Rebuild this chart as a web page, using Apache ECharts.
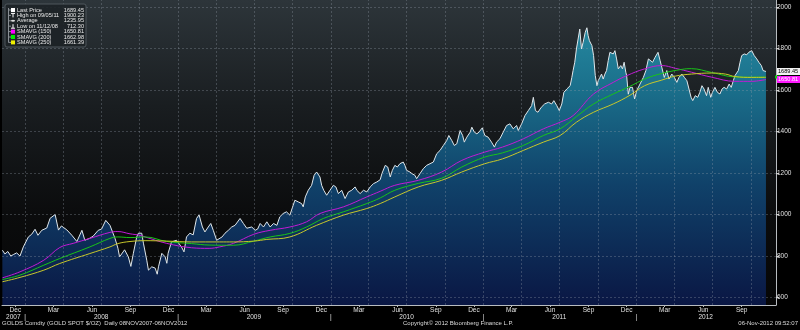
<!DOCTYPE html>
<html><head><meta charset="utf-8">
<script src="https://cdn.jsdelivr.net/npm/echarts@6/dist/echarts.min.js"></script>
<style>html,body{margin:0;padding:0;background:#000;}#c{width:800px;height:330px;}</style>
</head><body><div id="c"></div>
<script>
const goldPrice = [
['2007-11-08',828],['2007-11-14',810],['2007-11-21',822],['2007-11-28',800],['2007-12-05',808],['2007-12-12',815],['2007-12-20',800],['2007-12-28',844],
['2008-01-09',892],['2008-01-17',905],['2008-01-25',929],['2008-02-01',900],['2008-02-10',924],['2008-02-22',935],['2008-03-01',982],['2008-03-13',1000],['2008-03-17',1008],['2008-03-21',925],['2008-03-28',945],['2008-04-10',926],['2008-04-22',900],['2008-05-04',870],['2008-05-16',924],['2008-05-23',876],['2008-06-04',886],['2008-06-12',896],['2008-06-24',924],['2008-07-02',930],['2008-07-12',972],['2008-07-22',948],['2008-08-03',886],['2008-08-10',838],['2008-08-14',796],['2008-08-26',830],['2008-09-04',796],['2008-09-10',750],['2008-09-16',813],['2008-09-24',892],['2008-09-28',910],['2008-10-06',910],['2008-10-10',862],['2008-10-18',780],['2008-10-22',732],['2008-10-30',748],['2008-11-07',742],['2008-11-12',712.3],['2008-11-15',748],['2008-11-23',813],['2008-12-01',796],['2008-12-05',765],['2008-12-08',813],['2008-12-16',868],['2008-12-28',876],
['2009-01-01',868],['2009-01-09',844],['2009-01-15',820],['2009-01-21',892],['2009-01-29',910],['2009-02-06',902],['2009-02-14',981],['2009-02-20',998],['2009-02-28',940],['2009-03-06',916],['2009-03-14',940],['2009-03-20',957],['2009-03-26',924],['2009-04-03',876],['2009-04-11',886],['2009-04-16',892],['2009-04-23',910],['2009-05-01',924],['2009-05-09',940],['2009-05-17',948],['2009-05-29',981],['2009-06-06',957],['2009-06-14',934],['2009-06-26',940],['2009-07-04',924],['2009-07-10',930],['2009-07-16',957],['2009-07-24',940],['2009-08-01',965],['2009-08-09',940],['2009-08-17',957],['2009-08-25',948],['2009-09-01',989],['2009-09-09',1005],['2009-09-17',1013],['2009-09-25',997],['2009-10-03',1045],['2009-10-07',1069],['2009-10-15',1061],['2009-10-23',1053],['2009-10-27',1037],['2009-11-01',1085],['2009-11-08',1117],['2009-11-16',1141],['2009-11-22',1189],['2009-11-28',1205],['2009-12-02',1213],['2009-12-06',1181],['2009-12-10',1141],['2009-12-15',1117],['2009-12-22',1093],['2009-12-30',1117],
['2010-01-07',1141],['2010-01-13',1133],['2010-01-19',1101],['2010-01-27',1117],['2010-02-04',1077],['2010-02-12',1109],['2010-02-20',1117],['2010-02-28',1133],['2010-03-04',1117],['2010-03-12',1101],['2010-03-20',1117],['2010-03-28',1109],['2010-04-05',1133],['2010-04-13',1149],['2010-04-21',1157],['2010-04-29',1168],['2010-05-03',1197],['2010-05-11',1237],['2010-05-17',1229],['2010-05-23',1181],['2010-05-28',1213],['2010-06-03',1237],['2010-06-09',1229],['2010-06-15',1245],['2010-06-23',1253],['2010-06-27',1237],['2010-07-01',1213],['2010-07-09',1205],['2010-07-14',1197],['2010-07-21',1189],['2010-07-25',1173],['2010-08-02',1197],['2010-08-10',1221],['2010-08-18',1237],['2010-08-26',1245],['2010-09-03',1253],['2010-09-11',1293],['2010-09-19',1309],['2010-09-27',1333],['2010-10-05',1357],['2010-10-10',1381],['2010-10-17',1357],['2010-10-23',1333],['2010-10-29',1341],['2010-11-06',1405],['2010-11-12',1381],['2010-11-16',1349],['2010-11-22',1373],['2010-11-30',1397],['2010-12-04',1421],['2010-12-10',1397],['2010-12-16',1389],['2010-12-21',1397],['2010-12-29',1418],
['2011-01-04',1381],['2011-01-12',1373],['2011-01-20',1349],['2011-01-27',1325],['2011-02-01',1349],['2011-02-09',1365],['2011-02-17',1397],['2011-02-25',1429],['2011-03-05',1437],['2011-03-13',1413],['2011-03-21',1429],['2011-03-25',1405],['2011-04-02',1437],['2011-04-10',1477],['2011-04-18',1501],['2011-04-26',1525],['2011-04-30',1565],['2011-05-05',1501],['2011-05-11',1493],['2011-05-19',1517],['2011-05-27',1533],['2011-06-05',1541],['2011-06-13',1533],['2011-06-18',1549],['2011-06-25',1525],['2011-07-01',1501],['2011-07-07',1533],['2011-07-12',1589],['2011-07-19',1605],['2011-07-27',1621],['2011-07-31',1661],['2011-08-03',1694],['2011-08-07',1734],['2011-08-11',1798],['2011-08-15',1846],['2011-08-19',1894],['2011-08-23',1798],['2011-08-27',1830],['2011-09-01',1878],['2011-09-05',1900.23],['2011-09-08',1862],['2011-09-11',1838],['2011-09-17',1814],['2011-09-21',1766],['2011-09-25',1670],['2011-09-29',1621],['2011-10-02',1645],['2011-10-06',1661],['2011-10-10',1677],['2011-10-14',1653],['2011-10-18',1677],['2011-10-22',1694],['2011-10-26',1742],['2011-10-30',1782],['2011-11-03',1790],['2011-11-07',1774],['2011-11-11',1790],['2011-11-15',1750],['2011-11-19',1702],['2011-11-25',1718],['2011-11-29',1702],['2011-12-03',1734],['2011-12-07',1686],['2011-12-09',1670],['2011-12-13',1580],['2011-12-17',1613],['2011-12-23',1613],['2011-12-28',1557],
['2012-01-02',1597],['2012-01-10',1629],['2012-01-18',1661],['2012-01-24',1694],['2012-01-30',1750],['2012-02-03',1758],['2012-02-09',1734],['2012-02-15',1758],['2012-02-22',1782],['2012-02-27',1742],['2012-03-02',1710],['2012-03-08',1661],['2012-03-14',1694],['2012-03-19',1653],['2012-03-26',1677],['2012-04-01',1661],['2012-04-07',1637],['2012-04-12',1661],['2012-04-19',1677],['2012-04-25',1661],['2012-05-01',1645],['2012-05-06',1605],['2012-05-11',1565],['2012-05-15',1549],['2012-05-21',1573],['2012-05-27',1565],['2012-06-01',1589],['2012-06-06',1621],['2012-06-11',1605],['2012-06-17',1573],['2012-06-21',1613],['2012-06-27',1565],['2012-07-01',1589],['2012-07-07',1613],['2012-07-13',1589],['2012-07-19',1581],['2012-07-24',1605],['2012-07-29',1613],['2012-08-04',1605],['2012-08-10',1629],['2012-08-15',1613],['2012-08-20',1645],['2012-08-24',1670],['2012-08-28',1661],['2012-09-01',1694],['2012-09-05',1734],['2012-09-09',1766],['2012-09-15',1774],['2012-09-21',1770],['2012-09-26',1782],['2012-10-03',1790],['2012-10-09',1766],['2012-10-15',1750],['2012-10-20',1734],['2012-10-26',1718],['2012-10-30',1694],['2012-11-06',1689.45]
];
const smavg150 = [
['2007-11-08',695],['2007-12-20',724],['2008-02-15',780],['2008-03-24',841],['2008-04-25',861],['2008-06-04',885],['2008-07-22',914],['2008-08-10',918],['2008-09-08',907],['2008-10-02',900],['2008-10-14',892],['2008-12-05',861],['2009-02-02',840],['2009-03-16',837],['2009-04-10',844],['2009-05-13',861],['2009-07-01',905],['2009-08-09',924],['2009-09-25',940],['2009-11-04',965],['2009-12-06',1005],['2010-01-31',1037],['2010-03-28',1085],['2010-04-29',1112],['2010-06-03',1141],['2010-07-29',1165],['2010-09-23',1205],['2010-11-10',1261],['2011-01-04',1301],['2011-02-15',1325],['2011-04-06',1365],['2011-05-24',1413],['2011-07-03',1445],['2011-08-03',1477],['2011-09-21',1581],['2011-11-07',1637],['2011-12-10',1670],['2012-01-21',1702],['2012-03-02',1718],['2012-04-03',1705],['2012-05-12',1686],['2012-06-29',1662],['2012-08-24',1642],['2012-10-03',1642],['2012-11-06',1650.81]
];
const smavg200 = [
['2007-11-08',687],['2007-12-20',708],['2008-02-15',756],['2008-03-24',788],['2008-06-04',844],['2008-07-22',885],['2008-08-10',892],['2008-09-08',889],['2008-10-14',892],['2008-12-05',870],['2009-02-02',860],['2009-03-16',853],['2009-05-13',852],['2009-07-01',872],['2009-08-09',892],['2009-09-25',909],['2009-11-04',940],['2009-12-14',981],['2010-01-31',1013],['2010-03-28',1053],['2010-04-29',1080],['2010-06-03',1117],['2010-07-29',1150],['2010-09-23',1175],['2010-11-10',1229],['2011-01-04',1277],['2011-02-15',1297],['2011-04-06',1333],['2011-05-24',1381],['2011-07-03',1413],['2011-08-11',1472],['2011-09-21',1533],['2011-11-07',1581],['2011-12-17',1618],['2012-01-21',1653],['2012-03-02',1680],['2012-04-20',1700],['2012-05-12',1703],['2012-06-29',1685],['2012-08-24',1663],['2012-10-03',1662],['2012-11-06',1662.98]
];
const smavg250 = [
['2007-11-08',676],['2007-12-20',697],['2008-02-15',732],['2008-03-24',764],['2008-06-04',812],['2008-07-22',844],['2008-08-10',860],['2008-09-08',870],['2008-10-14',874],['2008-12-05',872],['2009-02-02',868],['2009-04-10',868],['2009-05-13',868],['2009-07-01',872],['2009-08-01',880],['2009-09-25',892],['2009-11-28',948],['2010-01-31',997],['2010-03-28',1029],['2010-04-29',1053],['2010-06-03',1085],['2010-07-29',1133],['2010-09-23',1165],['2010-11-10',1205],['2011-01-04',1245],['2011-02-15',1268],['2011-04-06',1309],['2011-05-24',1349],['2011-07-03',1381],['2011-08-11',1445],['2011-09-21',1493],['2011-11-07',1533],['2011-12-17',1575],['2012-01-21',1621],['2012-03-02',1648],['2012-04-03',1667],['2012-05-12',1677],['2012-06-29',1682],['2012-08-01',1677],['2012-08-24',1665],['2012-10-03',1661],['2012-11-06',1661.39]
];
const yTickValues = [600,800,1000,1200,1400,1600,1800,2000];
const quarterGridDates = ['2008-01-01','2008-04-01','2008-07-01','2008-10-01','2009-01-01','2009-04-01','2009-07-01','2009-10-01','2010-01-01','2010-04-01','2010-07-01','2010-10-01','2011-01-01','2011-04-01','2011-07-01','2011-10-01','2012-01-01','2012-04-01','2012-07-01','2012-10-01'];
const monthLabels = [['2007-12-09','Dec'],['2008-03-09','Mar'],['2008-06-09','Jun'],['2008-09-09','Sep'],['2008-12-09','Dec'],['2009-03-09','Mar'],['2009-06-09','Jun'],['2009-09-09','Sep'],['2009-12-09','Dec'],['2010-03-09','Mar'],['2010-06-09','Jun'],['2010-09-09','Sep'],['2010-12-09','Dec'],['2011-03-09','Mar'],['2011-06-09','Jun'],['2011-09-09','Sep'],['2011-12-09','Dec'],['2012-03-09','Mar'],['2012-06-09','Jun'],['2012-09-09','Sep']];
const yearLabels = [['2007-12-04','2007'],['2008-01-01','|'],['2008-07-01','2008'],['2009-01-01','|'],['2009-07-01','2009'],['2010-01-01','|'],['2010-07-01','2010'],['2011-01-01','|'],['2011-07-01','2011'],['2012-01-01','|'],['2012-06-15','2012']];
const xRange = ['2007-11-07', '2012-11-30'];
const legendRows = [['Last Price','1689.45'],['High on 09/05/11','1900.23'],['Average','1235.95'],['Low on 11/12/08','712.30'],['SMAVG (150)','1650.81'],['SMAVG (200)','1662.98'],['SMAVG (250)','1661.39']];
const lastMarkers = [[1662.98,'#10d010',''],[1689.45,'#f2f2f2','1689.45'],[1650.81,'#ff18ff','1650.81']];
const footerLeft = 'GOLDS Comdty (GOLD SPOT $/OZ)  Daily 08NOV2007-06NOV2012';
const footerMid = 'Copyright\u00a9 2012 Bloomberg Finance L.P.';
const footerRight = '06-Nov-2012 09:52:07';

const FONT = 'Liberation Sans';
const ts = s => Date.UTC(+s.slice(0, 4), +s.slice(5, 7) - 1, +s.slice(8, 10));
const toXY = arr => arr.map(p => [ts(p[0]), p[1]]);
const monthMap = {}; monthLabels.forEach(m => monthMap[ts(m[0])] = m[1]);
const yearMap = {}; yearLabels.forEach(m => yearMap[ts(m[0])] = m[1]);

const chart = echarts.init(document.getElementById('c'), null, {renderer: 'canvas'});
const gridLineStyle = {color: 'rgba(150,160,170,0.32)', type: [2, 2], width: 1};
const markData = yTickValues.map(v => ({yAxis: v})).concat(quarterGridDates.map(d => ({xAxis: ts(d)})));
const xBase = {type: 'value', min: ts(xRange[0]), max: ts(xRange[1]), position: 'bottom', splitLine: {show: false}};

chart.setOption({
  animation: false,
  backgroundColor: '#000',
  grid: {
    left: 2, right: 24, top: 0, bottom: 25, show: true, borderWidth: 0,
    backgroundColor: {type: 'linear', x: 0, y: 0, x2: 0, y2: 1, colorStops: [
      {offset: 0, color: '#2d353a'}, {offset: 0.35, color: '#191d20'}, {offset: 0.7, color: '#0b0c0d'}, {offset: 1, color: '#060606'}]}
  },
  xAxis: [Object.assign({}, xBase, {
    axisLine: {show: true, lineStyle: {color: '#b8bcc0', width: 1}},
    axisTick: {show: true, length: 2, lineStyle: {color: '#b8bcc0'}, customValues: monthLabels.map(m => ts(m[0]))},
    axisLabel: {customValues: monthLabels.map(m => ts(m[0])), formatter: v => monthMap[v] || '', color: '#e0e0e0', fontSize: 6.5, fontFamily: FONT, margin: 2}
  }), Object.assign({}, xBase, {
    offset: 7,
    axisLine: {show: false}, axisTick: {show: false},
    axisLabel: {customValues: yearLabels.map(m => ts(m[0])), formatter: v => yearMap[v] || '', color: '#e0e0e0', fontSize: 6.5, fontFamily: FONT, margin: 2}
  })],
  yAxis: {
    type: 'value', position: 'right', min: 564, max: 2034,
    axisLine: {show: true, lineStyle: {color: '#b8bcc0', width: 1}},
    axisTick: {show: true, length: 3, lineStyle: {color: '#d0d0d0'}, customValues: yTickValues},
    axisLabel: {customValues: yTickValues, formatter: v => String(v), color: '#e0e0e0', fontSize: 6.5, fontFamily: FONT, margin: 1},
    splitLine: {show: false}
  },
  series: [{
    type: 'line', name: 'Last Price', data: toXY(goldPrice), showSymbol: false, z: 2,
    lineStyle: {color: '#dfe6ea', width: 1},
    areaStyle: {origin: 'start', opacity: 1, color: {type: 'linear', global: true, x: 0, y: 0, x2: 0, y2: 305, colorStops: [
      {offset: 0, color: '#2a93a8'}, {offset: 0.3, color: '#1a6e8a'}, {offset: 0.6, color: '#10426a'}, {offset: 1, color: '#0a1744'}]}},
    markLine: {silent: true, symbol: ['none', 'none'], label: {show: false}, lineStyle: gridLineStyle, data: markData, animation: false}
  }, {
    type: 'line', name: 'SMAVG (150)', data: toXY(smavg150), showSymbol: false, smooth: 0.4, z: 3,
    lineStyle: {color: '#c21ad6', width: 1}
  }, {
    type: 'line', name: 'SMAVG (200)', data: toXY(smavg200), showSymbol: false, smooth: 0.4, z: 3,
    lineStyle: {color: '#18c418', width: 1}
  }, {
    type: 'line', name: 'SMAVG (250)', data: toXY(smavg250), showSymbol: false, smooth: 0.4, z: 3,
    lineStyle: {color: '#c8c82a', width: 1}
  }]
});

const g = [];
const font = '5.6px "' + FONT + '"';
const footFont = '6px "' + FONT + '"';
g.push({type: 'rect', shape: {x: 5, y: 4, width: 81, height: 43, r: 2}, style: {fill: 'rgba(28,34,38,0.88)', stroke: '#4e565c', lineWidth: 1}, z: 10});
g.push({type: 'line', shape: {x1: 8.5, y1: 8, x2: 8.5, y2: 42.5}, style: {stroke: '#8a9095', lineWidth: 1}, z: 11});
const icoColors = ['#ffffff', null, null, null, '#ff00ff', '#00ee00', '#eeee00'];
legendRows.forEach((r, i) => {
  const cy = 10 + i * 5.4;
  g.push({type: 'line', shape: {x1: 8.5, y1: cy, x2: 11, y2: cy}, style: {stroke: '#8a9095', lineWidth: 1}, z: 11});
  if (icoColors[i]) {
    g.push({type: 'rect', shape: {x: 11, y: cy - 2, width: 4, height: 4}, style: {fill: icoColors[i]}, z: 11});
  } else if (i === 1) {
    g.push({type: 'line', shape: {x1: 11, y1: cy - 2, x2: 15, y2: cy - 2}, style: {stroke: '#fff', lineWidth: 1}, z: 11});
    g.push({type: 'line', shape: {x1: 13, y1: cy - 2, x2: 13, y2: cy + 2}, style: {stroke: '#fff', lineWidth: 1}, z: 11});
  } else if (i === 2) {
    g.push({type: 'line', shape: {x1: 11, y1: cy, x2: 15, y2: cy}, style: {stroke: '#fff', lineWidth: 1}, z: 11});
    g.push({type: 'line', shape: {x1: 13, y1: cy - 1, x2: 13, y2: cy + 1}, style: {stroke: '#fff', lineWidth: 1}, z: 11});
  } else {
    g.push({type: 'line', shape: {x1: 13, y1: cy - 2, x2: 13, y2: cy + 2}, style: {stroke: '#fff', lineWidth: 1}, z: 11});
    g.push({type: 'line', shape: {x1: 11, y1: cy + 2, x2: 15, y2: cy + 2}, style: {stroke: '#fff', lineWidth: 1}, z: 11});
  }
  g.push({type: 'text', x: 17, y: cy, style: {text: r[0], fill: '#e8e8e8', font: font, verticalAlign: 'middle', align: 'left'}, z: 11});
  g.push({type: 'text', x: 84, y: cy, style: {text: r[1], fill: '#e8e8e8', font: font, verticalAlign: 'middle', align: 'right'}, z: 11});
});
lastMarkers.forEach(m => {
  const py = chart.convertToPixel({yAxisIndex: 0}, m[0]);
  if (!m[2]) {
    g.push({type: 'rect', shape: {x: 775, y: py - 1.5, width: 6, height: 3}, style: {fill: m[1]}, z: 12});
  } else {
    g.push({type: 'rect', shape: {x: 777, y: py - 3.5, width: 23, height: 7}, style: {fill: m[1]}, z: 12});
    g.push({type: 'text', x: 778, y: py, style: {text: m[2], fill: m[1] === '#f2f2f2' ? '#000' : '#fff', font: font, verticalAlign: 'middle', align: 'left'}, z: 13});
  }
});
g.push({type: 'text', x: 2, y: 323, style: {text: footerLeft, fill: '#dcdcdc', font: footFont, verticalAlign: 'middle', align: 'left'}, z: 11});
g.push({type: 'text', x: 403, y: 323, style: {text: footerMid, fill: '#dcdcdc', font: footFont, verticalAlign: 'middle', align: 'left'}, z: 11});
g.push({type: 'text', x: 798, y: 323, style: {text: footerRight, fill: '#dcdcdc', font: footFont, verticalAlign: 'middle', align: 'right'}, z: 11});
chart.setOption({graphic: {elements: g}});
</script>
</body></html>
